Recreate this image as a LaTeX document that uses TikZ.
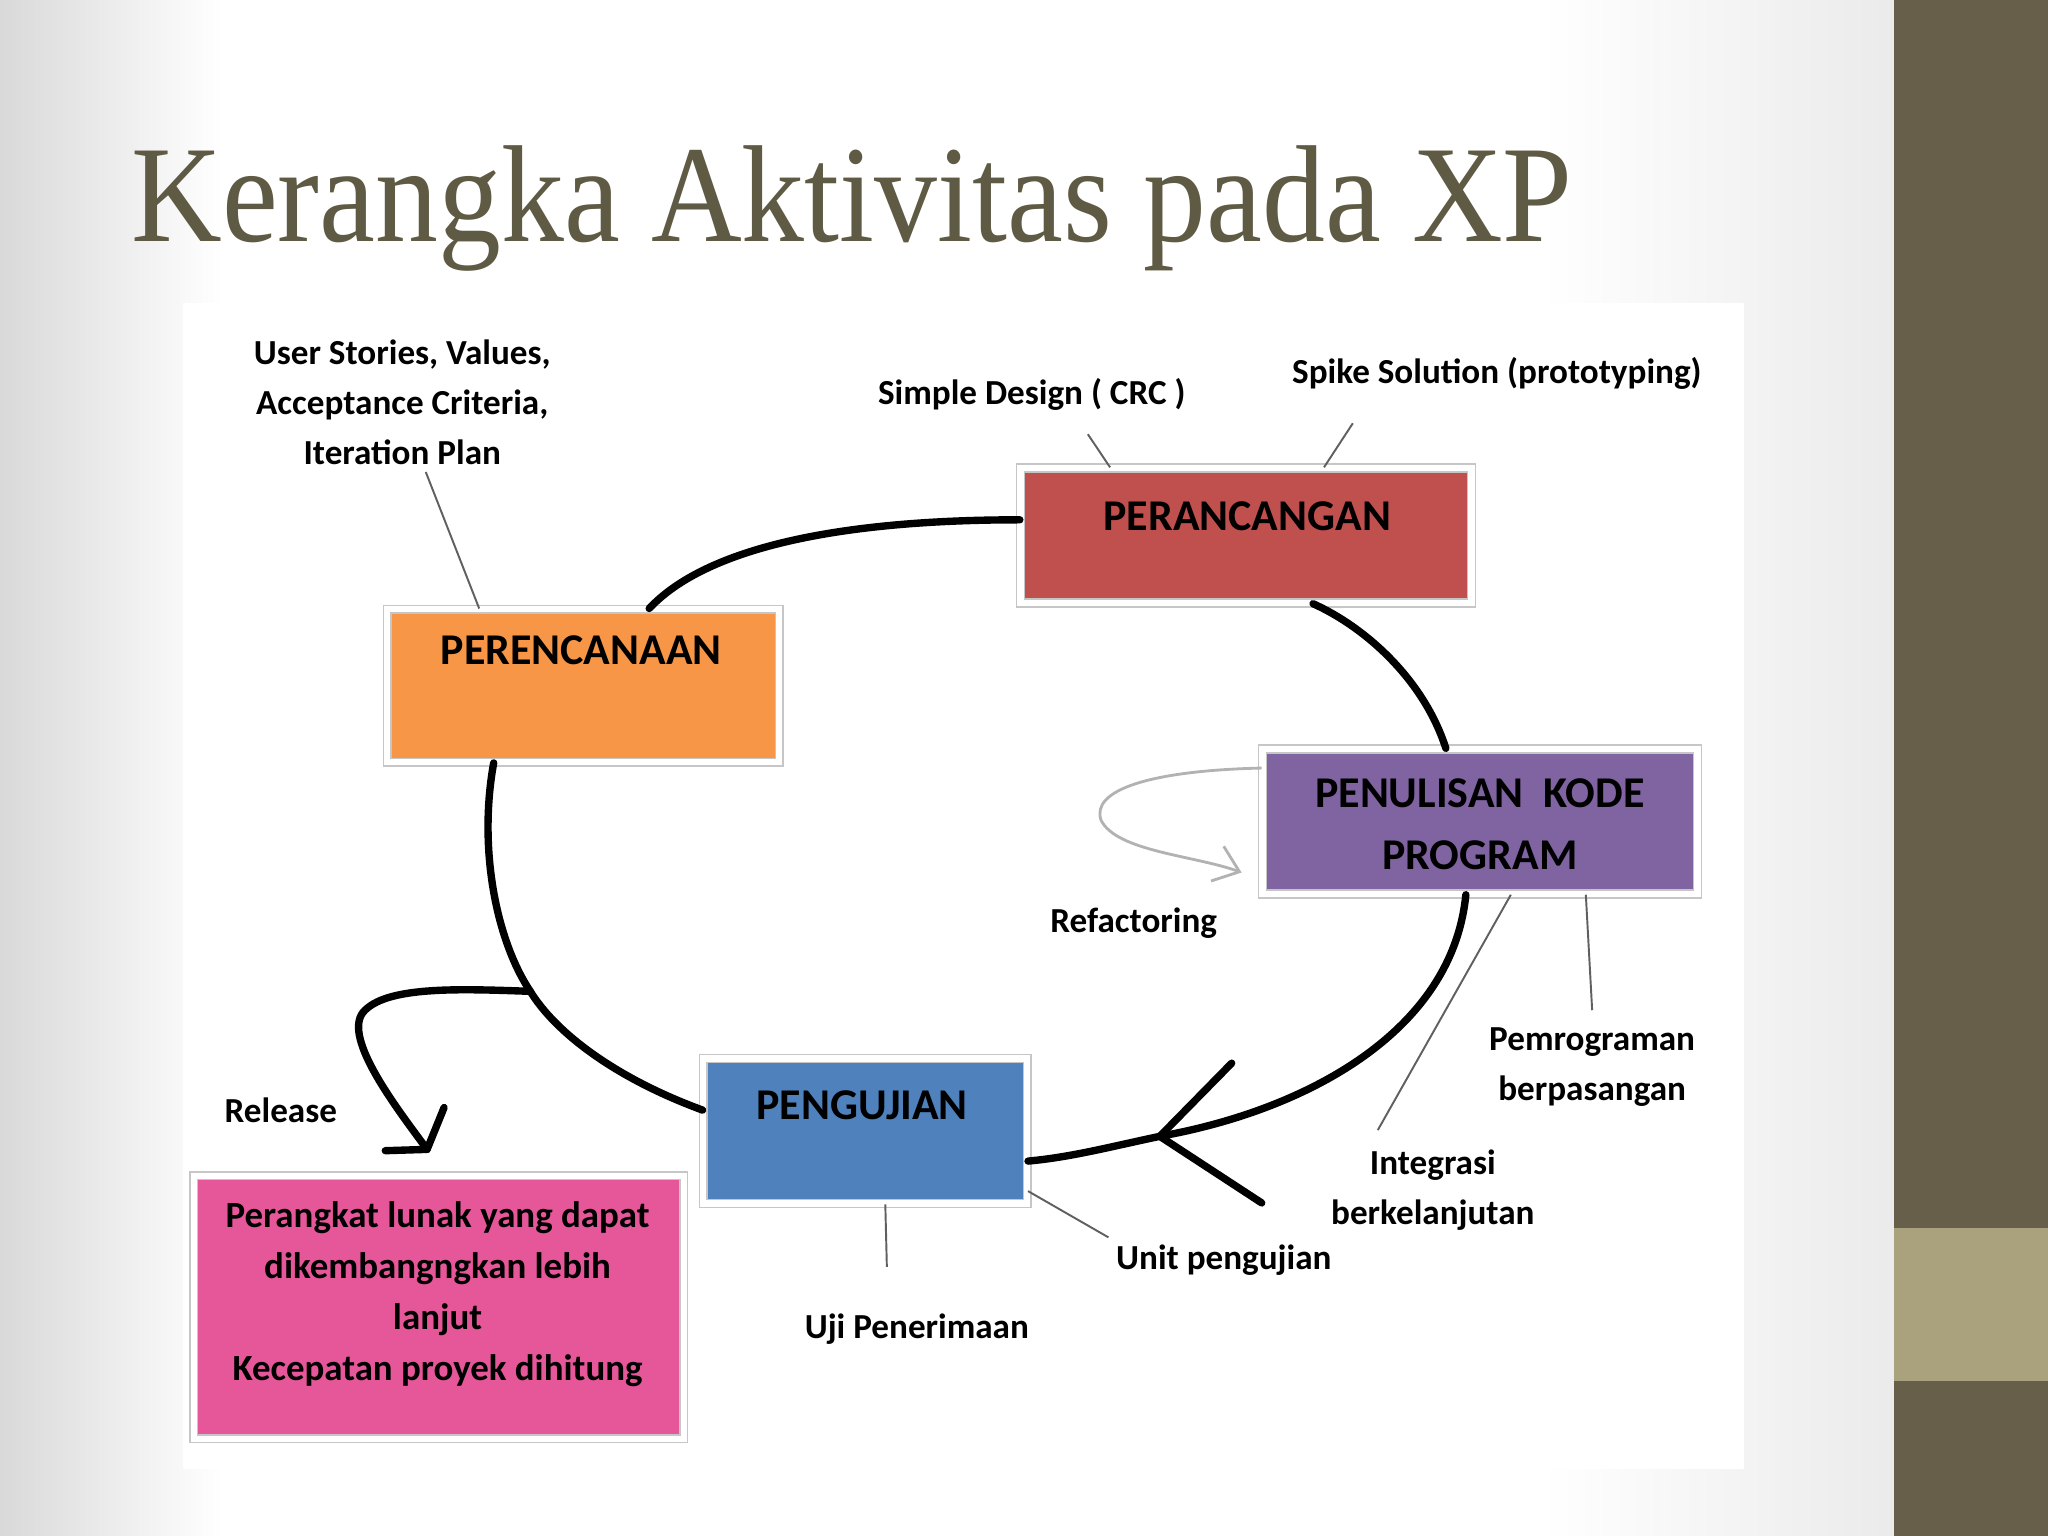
\documentclass[tikz,border=0pt]{standalone}
\usepackage{fontspec}
\setmainfont{Carlito}
\newfontfamily\titlefont[FakeStretch=0.91]{Liberation Serif}
\usetikzlibrary{arrows.meta,positioning,shadows}

\definecolor{slidebar}{HTML}{675F49}
\definecolor{slidebarlight}{HTML}{A9A27C}
\definecolor{titlecolor}{HTML}{5F5A44}
\definecolor{designred}{HTML}{C0504D}
\definecolor{planorange}{HTML}{F79646}
\definecolor{codepurple}{HTML}{8064A2}
\definecolor{testblue}{HTML}{4F81BD}
\definecolor{releasepink}{HTML}{E6579A}
\definecolor{boxshadow}{HTML}{B9A994}

\tikzset{
  phase/.style={rectangle, draw=gray!45, line width=0.4pt, double=white, double distance=1.8pt,
    drop shadow={shadow xshift=0.8pt, shadow yshift=-0.8pt, fill=boxshadow}, inner sep=0pt},
  phasetext/.style={font=\bfseries\fontsize{12.5}{17.8}\selectfont, align=center, inner sep=0pt},
  note/.style={font=\bfseries\fontsize{10}{14.1}\selectfont, align=center, inner sep=2pt},
  cycle/.style={line width=2.1pt, line cap=round, line join=round},
  leader/.style={gray!75!black, line width=0.55pt},
  refactor/.style={gray!60, line width=0.8pt, -{Straight Barb[length=6.7pt, width=10.5pt]}},
}

\begin{document}
\begin{tikzpicture}[x=0.01306cm, y=-0.01306cm]
    \useasboundingbox (0,0) rectangle (1568,1176);

    % slide background
    \fill[white] (0,0) rectangle (1450,1176);
    \shade[left color=black!15, right color=white] (0,0) rectangle (170,1176);
    \shade[left color=white, right color=black!8] (1180,0) rectangle (1450,1176);
    \fill[white] (140,232) rectangle (1335,1125);
    \fill[slidebar] (1450,0) rectangle (1568,1176);
    \fill[slidebarlight] (1450,940) rectangle (1568,1057);

    \node[anchor=base west, font=\titlefont\fontsize{39.3}{40}\selectfont, text=titlecolor, inner sep=0pt] (title) at (100,185) {Kerangka Aktivitas pada XP};

    % phases
    \node[phase, fill=planorange, minimum width=3.92cm, minimum height=1.53cm] (plan) at (446.5,525) {};
    \node[phase, fill=designred, minimum width=4.51cm, minimum height=1.35cm] (design) at (954,410) {};
    \node[phase, fill=codepurple, minimum width=4.35cm, minimum height=1.45cm] (code) at (1133,629) {};
    \node[phase, fill=testblue, minimum width=3.24cm, minimum height=1.45cm] (test) at (662.5,866) {};
    \node[phase, fill=releasepink, minimum width=4.90cm, minimum height=2.63cm] (release) at (336,1001) {};

    \node[phasetext] (plan-t) at (445,498) {PERENCANAAN};
    \node[phasetext] (design-t) at (955,395) {PERANCANGAN};
    \node[phasetext] (code-t) at (1133,631) {PENULISAN\ \ KODE\\PROGRAM};
    \node[phasetext] (test-t) at (660,846) {PENGUJIAN};
    \node[note, font=\bfseries\fontsize{10.5}{14.5}\selectfont] (release-t) at (335,991) {Perangkat lunak yang dapat\\dikembangngkan lebih\\lanjut\\Kecepatan proyek dihitung};

    % notes
    \node[note] (stories) at (308,308) {User Stories, Values,\\Acceptance Criteria,\\Iteration Plan};
    \node[note] (simple) at (790,302) {Simple Design ( CRC )};
    \node[note] (spike) at (1146,286) {Spike Solution (prototyping)};
    \node[note] (refactoring) at (868,707) {Refactoring};
    \node[note] (pair) at (1219,817) {Pemrograman\\berpasangan};
    \node[note] (integ) at (1097,911) {Integrasi\\berkelanjutan};
    \node[note] (unit) at (937,965) {Unit pengujian};
    \node[note] (uji) at (702,1018) {Uji Penerimaan};
    \node[note] (rel-label) at (215,850) {Release};

    \coordinate (uji-end) at (679,970);
    \coordinate (fork) at (406,759);
    \coordinate (tip) at (888,870);
    \coordinate (tip-up) at (943,814);
    \coordinate (tip-down) at (966,921);
    \coordinate (rel-tip) at (327,880);
    \coordinate (rel-up) at (340,848);
    \coordinate (rel-left) at (295,881);

    % leader lines
    \draw[leader] ([xshift=0.235cm]stories.south) -- ([xshift=-1.04cm]plan.north);
    \draw[leader] ([xshift=0.56cm, yshift=-0.16cm]simple.south) -- ([xshift=-1.36cm]design.north);
    \draw[leader] ([xshift=-1.44cm, yshift=-0.26cm]spike.south) -- ([xshift=0.78cm]design.north);
    \draw[leader] ([xshift=0.31cm]code.south) -- ([xshift=-0.55cm, yshift=0.12cm]integ.north);
    \draw[leader] ([xshift=1.06cm]code.south) -- ([yshift=0.1cm]pair.north);
    \draw[leader] ([yshift=-0.6cm]test.east) -- (unit.north west);
    \draw[leader] ([xshift=0.2cm]test.south) -- (uji-end);

    % cycle
    \draw[cycle] ([xshift=0.66cm]plan.north) .. controls (540,420) and (640,398) .. ([yshift=0.157cm]design.west);
    \draw[cycle] ([xshift=0.67cm]design.south) .. controls (1045,480) and (1090,520) .. ([xshift=-0.34cm]code.north);
    \draw[cycle] ([xshift=-0.14cm]code.south) .. controls (1112,790) and (1000,850) .. (tip)
        .. controls (850,878) and (820,886) .. ([yshift=-0.3cm]test.east);
    \draw[cycle] (tip-up) -- (tip) -- (tip-down);
    \draw[cycle] ([yshift=0.21cm]test.west) .. controls (470,825) and (425,790) .. (fork)
        .. controls (380,720) and (366,650) .. ([xshift=-0.895cm]plan.south);

    % release
    \draw[cycle] (fork) .. controls (350,757) and (295,755) .. (278,775)
        .. controls (262,795) and (305,850) .. (rel-tip);
    \draw[cycle] (rel-up) -- (rel-tip) -- (rel-left);

    % refactoring loop
    \draw[refactor] ([yshift=0.535cm]code.west) .. controls (880,590) and (835,605) .. (843,628)
        .. controls (855,652) and (915,655) .. ([xshift=-0.2cm, yshift=-0.51cm]code.west);
\end{tikzpicture}
\end{document}
